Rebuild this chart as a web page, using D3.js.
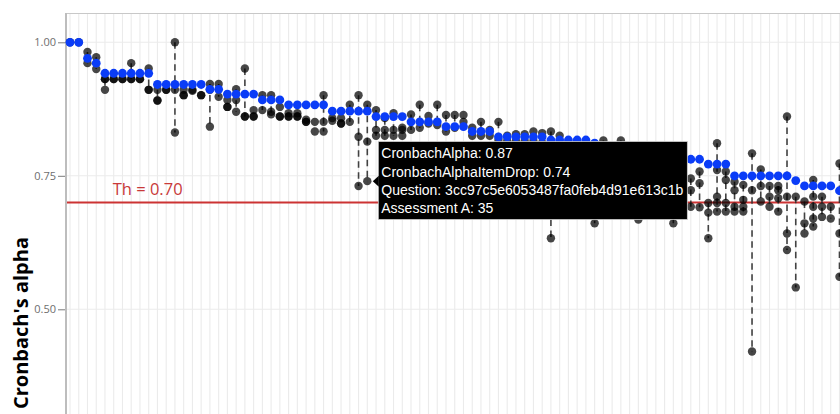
<!DOCTYPE html>
<html>
<head>
<meta charset="utf-8">
<script src="https://cdn.jsdelivr.net/npm/d3@7"></script>
<style>
  html, body { margin: 0; padding: 0; background: #ffffff; }
  svg { display: block; }
</style>
</head>
<body>
<script>
// ---------------- DATA ----------------
const questions = [
  "Q01","Q02","Q03","Q04","Q05","Q06","Q07","Q08","Q09","Q10",
  "Q11","Q12","Q13","Q14","Q15","Q16","Q17","Q18","Q19","Q20",
  "Q21","Q22","Q23","Q24","Q25","Q26","Q27","Q28","Q29","Q30",
  "Q31","Q32","Q33","Q34","Q35","Q36","Q37","Q38","Q39","Q40",
  "Q41","Q42","Q43","Q44","Q45","Q46","Q47","Q48","Q49","Q50",
  "Q51","Q52","Q53","Q54","Q55","Q56","Q57","Q58","Q59","Q60",
  "Q61","Q62","Q63","Q64","Q65","Q66","Q67","Q68","Q69","Q70",
  "Q71","Q72","Q73","Q74","Q75","Q76","Q77","Q78","Q79","Q80",
  "Q81","Q82","Q83","Q84","Q85","Q86","Q87","Q88","Q89"
];

// Cronbach's alpha per question (blue points)
const cronbachAlpha = [
  1.000, 1.000, 0.970, 0.961, 0.942, 0.942, 0.942, 0.942, 0.942, 0.942,
  0.921, 0.921, 0.921, 0.921, 0.921, 0.921, 0.912, 0.912, 0.903, 0.903,
  0.903, 0.903, 0.892, 0.892, 0.892, 0.883, 0.883, 0.883, 0.883, 0.883,
  0.871, 0.871, 0.871, 0.871, 0.871, 0.861, 0.861, 0.861, 0.861, 0.851,
  0.851, 0.851, 0.851, 0.842, 0.842, 0.842, 0.833, 0.833, 0.833, 0.823,
  0.823, 0.823, 0.823, 0.823, 0.823, 0.817, 0.817, 0.817, 0.817, 0.817,
  0.811, 0.801, 0.801, 0.801, 0.801, 0.801, 0.791, 0.791, 0.791, 0.791,
  0.791, 0.781, 0.781, 0.772, 0.772, 0.772, 0.750, 0.750, 0.750, 0.750,
  0.750, 0.750, 0.750, 0.741, 0.731, 0.731, 0.731, 0.731, 0.722
];

// Cronbach's alpha if item dropped (black points), per question
const alphaItemDrop = [
  [1.000], [1.000], [0.982, 0.961], [0.972, 0.950],
  [0.931, 0.931, 0.911], [0.931, 0.931], [0.931, 0.931], [0.961, 0.931, 0.931],
  [0.931, 0.931], [0.951, 0.911, 0.911], [0.911, 0.891, 0.891], [0.911, 0.911],
  [1.000, 0.911, 0.831], [0.911, 0.901, 0.901], [0.911, 0.909], [0.901, 0.901],
  [0.922, 0.911, 0.842], [0.922, 0.898], [0.892, 0.879, 0.879], [0.912, 0.892, 0.870],
  [0.951, 0.861, 0.861], [0.873, 0.861, 0.861], [0.901, 0.873], [0.901, 0.870, 0.865],
  [0.879, 0.861, 0.861], [0.867, 0.861, 0.861], [0.867, 0.861, 0.861], [0.855, 0.851, 0.851],
  [0.851, 0.833], [0.901, 0.851, 0.833], [0.858, 0.853], [0.858, 0.848, 0.848],
  [0.883, 0.851], [0.901, 0.823, 0.731], [0.883, 0.814, 0.740], [0.873, 0.836, 0.825],
  [0.858, 0.836, 0.825], [0.867, 0.836, 0.825], [0.840, 0.836, 0.825], [0.865, 0.836],
  [0.883, 0.840], [0.862, 0.848], [0.883, 0.845], [0.864, 0.833],
  [0.864, 0.840], [0.864, 0.851], [0.840, 0.825], [0.851, 0.825],
  [0.836, 0.825], [0.851, 0.817], [0.825, 0.815], [0.828, 0.815],
  [0.828, 0.815], [0.833, 0.815], [0.830, 0.812], [0.833, 0.810, 0.633],
  [0.825, 0.805], [0.812, 0.800], [0.812, 0.795], [0.805, 0.790],
  [0.810, 0.790, 0.661], [0.816, 0.790], [0.800, 0.785], [0.816, 0.780],
  [0.795, 0.770], [0.790, 0.770, 0.668], [0.785, 0.760], [0.780, 0.760],
  [0.780, 0.750], [0.775, 0.750, 0.661], [0.775, 0.740], [0.745, 0.723, 0.692],
  [0.758, 0.736, 0.691], [0.699, 0.681, 0.633], [0.811, 0.761, 0.711, 0.699, 0.683], [0.758, 0.742, 0.699, 0.683],
  [0.739, 0.723, 0.692, 0.683], [0.733, 0.705, 0.692, 0.683], [0.792, 0.723, 0.421], [0.762, 0.731, 0.702],
  [0.731, 0.711, 0.692], [0.731, 0.723, 0.708, 0.683], [0.861, 0.711, 0.642, 0.611], [0.711, 0.541],
  [0.702, 0.661, 0.642], [0.742, 0.711, 0.692, 0.670, 0.655], [0.711, 0.692, 0.673], [0.692, 0.670],
  [0.773, 0.642, 0.561]
];

const yTickValues = [0.50, 0.75, 1.00];
const yTickLabels = ["0.50", "0.75", "1.00"];
const thresholdValue = 0.70;
const thresholdLabel = "Th = 0.70";
const yAxisTitle = "Cronbach's alpha";

// hovered point shown in the tooltip
const hoverQuestion = "Q35";
const hoverItemDrop = 0.740;
const tooltipLines = [
  "CronbachAlpha: 0.87",
  "CronbachAlphaItemDrop: 0.74",
  "Question: 3cc97c5e6053487fa0feb4d91e613c1b",
  "Assessment A: 35"
];

// ---------------- CHART ----------------
const W = 840, H = 414;
const panel = { left: 66, top: 13.5 };

const svg = d3.select("body").append("svg")
  .attr("width", W).attr("height", H);

const x = d3.scalePoint()
  .domain(questions)
  .range([70, 70 + 8.744 * (questions.length - 1)]);

const y = d3.scaleLinear()
  .domain([0.50, 1.00])
  .range([309.3, 42.3]);

// panel
svg.append("rect")
  .attr("x", panel.left).attr("y", panel.top)
  .attr("width", W).attr("height", H)
  .attr("fill", "#ffffff");

// vertical gridlines
svg.append("g").selectAll("line")
  .data(questions).join("line")
  .attr("x1", d => x(d)).attr("x2", d => x(d))
  .attr("y1", panel.top).attr("y2", H)
  .attr("stroke", "#ebebeb").attr("stroke-width", 1.1);

// horizontal gridlines
svg.append("g").selectAll("line")
  .data(yTickValues).join("line")
  .attr("x1", panel.left).attr("x2", W)
  .attr("y1", d => y(d)).attr("y2", d => y(d))
  .attr("stroke", "#ebebeb").attr("stroke-width", 1.1);

// panel border
svg.append("line")
  .attr("x1", panel.left).attr("x2", W)
  .attr("y1", panel.top).attr("y2", panel.top)
  .attr("stroke", "#c8c8c8").attr("stroke-width", 1.2);
svg.append("line")
  .attr("x1", panel.left).attr("x2", panel.left)
  .attr("y1", panel.top - 0.6).attr("y2", H)
  .attr("stroke", "#bdbdbd").attr("stroke-width", 2);

// y axis
const yAxis = d3.axisLeft(y)
  .tickValues(yTickValues)
  .tickFormat((d, i) => yTickLabels[i])
  .tickSize(7)
  .tickPadding(2);
const gy = svg.append("g")
  .attr("transform", `translate(${panel.left - 1},0)`)
  .call(yAxis);
gy.select(".domain").remove();
gy.selectAll(".tick line").attr("stroke", "#7a7a7a").attr("stroke-width", 1);
gy.selectAll(".tick text")
  .attr("fill", "#6e6e6e")
  .style("font-family", "'Open Sans', sans-serif")
  .style("font-size", "11px");

// y axis title
svg.append("text")
  .attr("transform", "translate(28,237) rotate(-90)")
  .attr("text-anchor", "end")
  .style("font-family", "'Open Sans', sans-serif")
  .style("font-weight", "700")
  .style("font-size", "20px")
  .attr("fill", "#000")
  .text(yAxisTitle);

// threshold line + label
svg.append("line")
  .attr("x1", panel.left + 1).attr("x2", W)
  .attr("y1", y(thresholdValue)).attr("y2", y(thresholdValue))
  .attr("stroke", "#cc3333").attr("stroke-width", 2);
svg.append("text")
  .attr("x", x(questions[5]) - 1)
  .attr("y", y(thresholdValue) - 7.5)
  .attr("fill", "#c93a3a")
  .style("font-family", "'Open Sans', sans-serif")
  .style("font-size", "16.5px")
  .text(thresholdLabel);

// dashed ranges
const ranges = questions.map((q, i) => ({
  q, lo: d3.min(alphaItemDrop[i]), hi: d3.max(alphaItemDrop[i])
})).filter(d => d.hi - d.lo > 0.02);

svg.append("g").selectAll("line")
  .data(ranges).join("line")
  .attr("x1", d => x(d.q)).attr("x2", d => x(d.q))
  .attr("y1", d => y(d.hi)).attr("y2", d => y(d.lo))
  .attr("stroke", "#303030").attr("stroke-width", 1.6)
  .attr("stroke-dasharray", "6.5,4.5")
  .attr("opacity", 0.9);

// item-drop points (black, translucent)
const dropPts = [];
questions.forEach((q, i) => alphaItemDrop[i].forEach(v => dropPts.push({ q, v })));
svg.append("g").selectAll("circle")
  .data(dropPts).join("circle")
  .attr("cx", d => x(d.q)).attr("cy", d => y(d.v))
  .attr("r", 4.2)
  .attr("fill", "#000").attr("fill-opacity", 0.72);

// alpha points (blue)
svg.append("g").selectAll("circle")
  .data(questions.map((q, i) => ({ q, v: cronbachAlpha[i] }))).join("circle")
  .attr("cx", d => x(d.q)).attr("cy", d => y(d.v))
  .attr("r", 4.4)
  .attr("fill", "#0a3cf7");

// tooltip
const px = x(hoverQuestion), py = y(hoverItemDrop);
const tip = svg.append("g");
const boxX = px + 11, boxY = py - 39.6, boxH = 78;
const bg = tip.append("rect")
  .attr("x", boxX).attr("y", boxY).attr("height", boxH)
  .attr("fill", "#000").attr("stroke", "#cfcfcf").attr("stroke-width", 0.8);
tip.append("path")
  .attr("d", `M${px + 5.5},${py} L${boxX + 0.5},${py - 5.5} L${boxX + 0.5},${py + 5.5} Z`)
  .attr("fill", "#000");
const texts = tip.selectAll("text").data(tooltipLines).join("text")
  .attr("x", boxX + 3)
  .attr("y", (d, i) => boxY + 16.8 + i * 18.2)
  .attr("fill", "#ffffff")
  .style("font-family", "'Liberation Sans', Arial, sans-serif")
  .style("font-size", "14px")
  .text(d => d);
let maxW = 0;
texts.each(function() { maxW = Math.max(maxW, this.getComputedTextLength()); });
bg.attr("width", maxW + 7);
</script>
</body>
</html>
